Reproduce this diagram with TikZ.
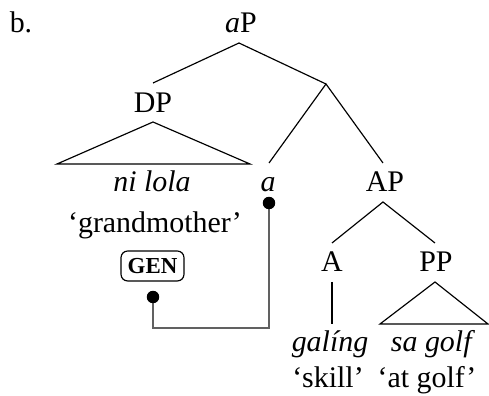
\documentclass[tikz,border=0pt]{standalone}
\usepackage{fontspec}
\setmainfont{Liberation Serif}
\begin{document}
\begin{tikzpicture}[x=0.3846pt,y=-0.3846pt,
  lbl/.style={anchor=base,inner sep=0pt,font=\fontsize{11.5}{13}\selectfont},
  edge/.style={line width=0.45pt},
  link/.style={draw=black!62,line width=0.75pt},
  dotmark/.style={fill=black},
  genbox/.style={draw,rounded corners=2.5pt,line width=0.45pt,minimum width=24.2pt,minimum height=11.5pt,inner sep=0pt,font=\bfseries\fontsize{8.8}{10}\selectfont}]
\useasboundingbox (0,0) rectangle (489,396);
% labels
\node[lbl] (ex) at (21,33) {b.};
\node[lbl] (aP) at (241,33) {\textit{a}P};
\node[lbl] (DP) at (153,113) {DP};
\node[lbl] (nilola) at (152,192) {\textit{ni lola}};
\node[lbl] (a) at (268,192) {\textit{a}};
\node[lbl] (AP) at (385,192) {AP};
\node[lbl] (gm) at (155,233) {‘grandmother’};
\node[genbox] (gen) at (152.5,266) {GEN};
\node[lbl] (A) at (332,272) {A};
\node[lbl] (PP) at (436,272) {PP};
\node[lbl] (galing) at (330,352) {\textit{galíng}};
\node[lbl] (sagolf) at (433,352) {\textit{sa golf}};
\node[lbl] (skill) at (328,388) {‘skill’};
\node[lbl] (atgolf) at (427,388) {‘at golf’};
% tree points
\coordinate (aPb) at (239,43);
\coordinate (DPt) at (153,83);
\coordinate (br) at (326,84);
\coordinate (at) at (269,163);
\coordinate (APt) at (383,163);
\coordinate (DPb) at (153,122);
\coordinate (DPl) at (57,164);
\coordinate (DPr) at (250,164);
\coordinate (APb) at (383,202);
\coordinate (At) at (332,243);
\coordinate (PPt) at (435,243);
\coordinate (Ab) at (332,282);
\coordinate (Ag) at (332,324);
\coordinate (PPb) at (435,282);
\coordinate (PPl) at (380,324);
\coordinate (PPr) at (488,324);
% edges
\draw[edge] (DPt) -- (aPb) -- (br);
\draw[edge] (at) -- (br) -- (APt);
\draw[edge] (DPb) -- (DPl) -- (DPr) -- cycle;
\draw[edge] (At) -- (APb) -- (PPt);
\draw[edge] (Ab) -- (Ag);
\draw[edge] (PPb) -- (PPl) -- (PPr) -- cycle;
% agreement link
\coordinate (d1) at (269,203);
\coordinate (d2) at (153,297);
\coordinate (c1) at (269,328);
\coordinate (c2) at (153,328);
\draw[link] (d1) -- (c1) -- (c2) -- (d2);
\fill[dotmark] (d1) circle[radius=2.4pt];
\fill[dotmark] (d2) circle[radius=2.4pt];
\end{tikzpicture}
\end{document}
